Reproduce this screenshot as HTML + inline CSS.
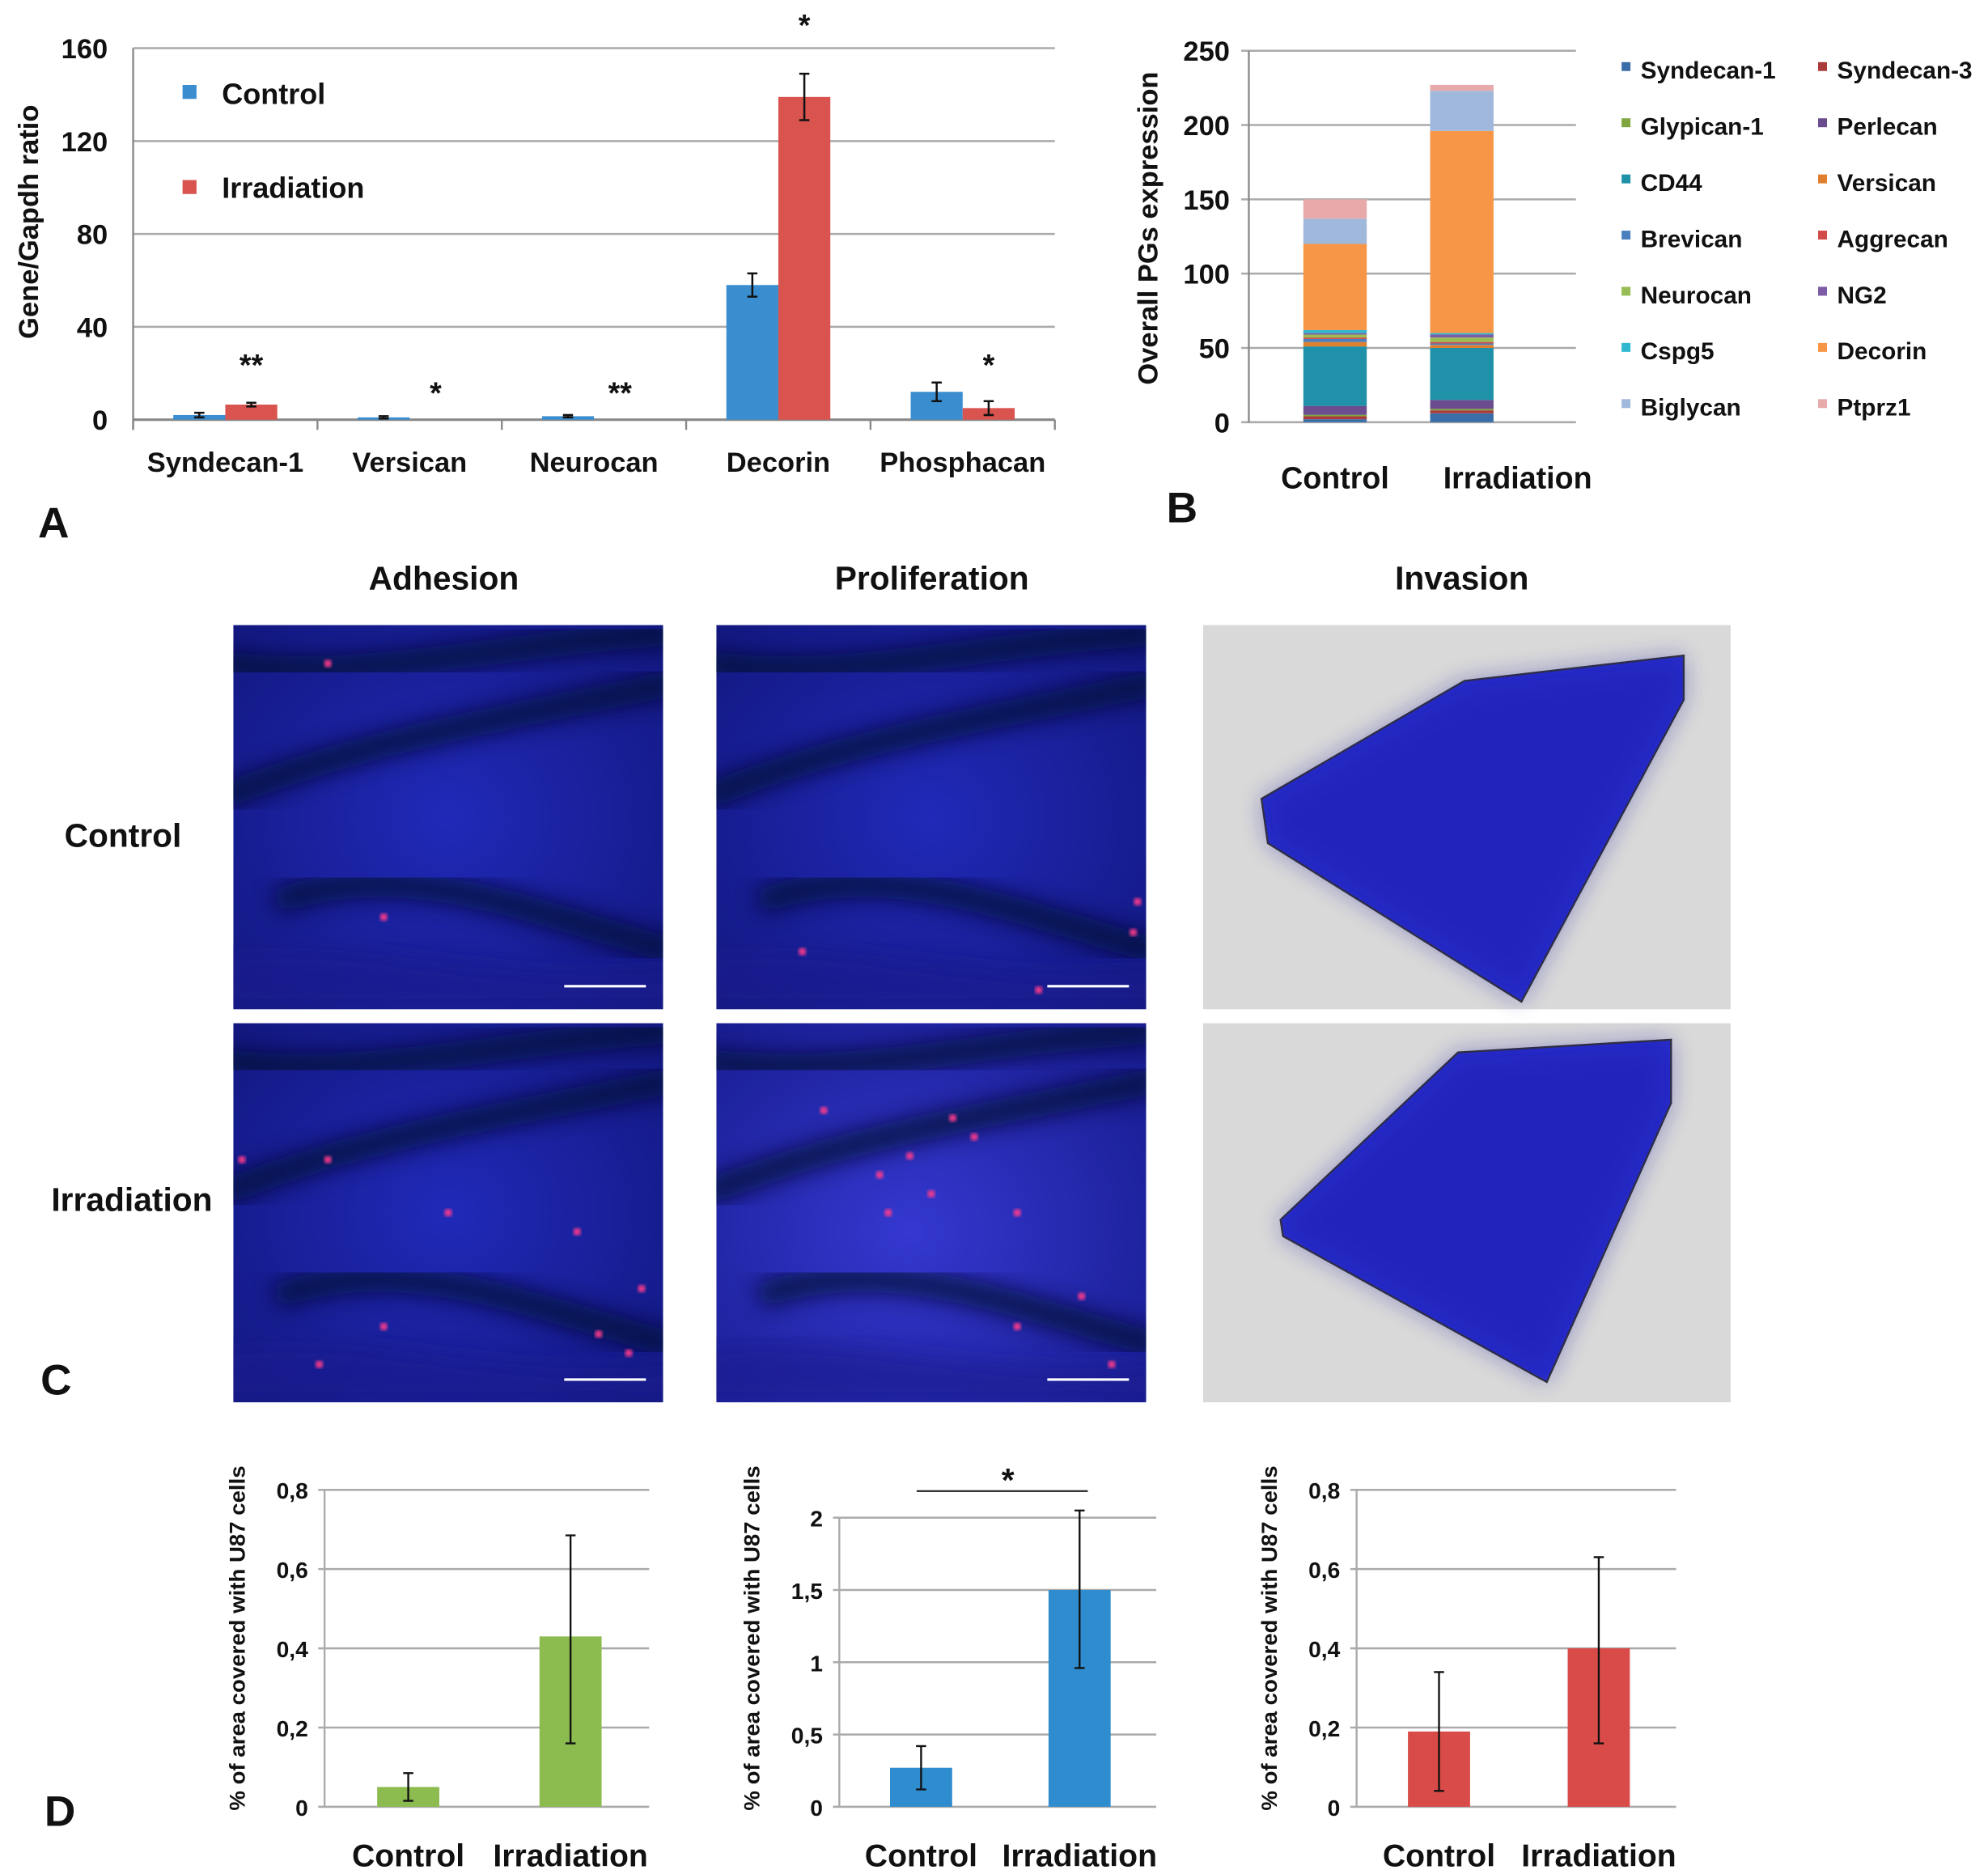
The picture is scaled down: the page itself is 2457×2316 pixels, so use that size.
<!DOCTYPE html>
<html><head><meta charset="utf-8"><style>
html,body{margin:0;padding:0;background:#fff}
svg{display:block}
text{font-family:"Liberation Sans",Arial,sans-serif;font-weight:bold;fill:#111}
</style></head><body>
<svg id="fig" width="2457" height="2316" viewBox="0 0 1568 1478" xmlns="http://www.w3.org/2000/svg">
<defs>
<radialGradient id="blueA" cx="50%" cy="50%" r="70%"><stop offset="0" stop-color="#2029b8"/><stop offset="1" stop-color="#121880"/></radialGradient>
<radialGradient id="blueB" cx="45%" cy="55%" r="70%"><stop offset="0" stop-color="#3438d0"/><stop offset="1" stop-color="#181d92"/></radialGradient>
<filter id="blur6"><feGaussianBlur stdDeviation="9"/></filter>
<filter id="blur2"><feGaussianBlur stdDeviation="1.5"/></filter>
</defs>
<g id="root"></g>
</svg>
<script>
// ---------- Panel A data ----------
const aCats = ["Syndecan-1","Versican","Neurocan","Decorin","Phosphacan"];
const aControl = [2, 1, 1.5, 58, 12];
const aIrr = [6.5, 0, 0, 139, 5];
const aCtrlErr = [1, 0.5, 0.5, 5, 4];
const aIrrErr = [0.8, 0, 0, 10, 3];
const aStars = ["**","*","**","*","*"];
const aTicks = [0,40,80,120,160];
// ---------- Panel B data ----------
const bCats = ["Control","Irradiation"];
const bSeries = ["Syndecan-1","Syndecan-3","Glypican-1","Perlecan","CD44","Versican","Brevican","Aggrecan","Neurocan","NG2","Cspg5","Decorin","Biglycan","Ptprz1"];
const bColors = ["#3a6ea8","#a93c3a","#7ea53e","#6a4c8f","#1f91a8","#e07f2e","#4a7fbf","#d24b48","#97bd54","#7d5ba6","#2fb7cf","#f79646","#9fb8db","#e8a9aa"];
const bControl = [2,2,1,6,40,3,2,1,2,1,2,58,17,13];
const bIrr = [6,2,1,6,35,2,1,1,3,2,1,136,27,4];
const bTicks = [0,50,100,150,200,250];
// ---------- Panel D data ----------
const dCats = ["Control","Irradiation"];
const dAdhesion = [0.05, 0.43];
const dAdhesionHi = [0.085, 0.685];
const dAdhesionLo = [0.015, 0.16];
const dProlif = [0.27, 1.5];
const dProlifHi = [0.42, 2.05];
const dProlifLo = [0.12, 0.96];
const dInvasion = [0.19, 0.40];
const dInvasionHi = [0.34, 0.63];
const dInvasionLo = [0.04, 0.16];
const dTicks08 = [0,0.2,0.4,0.6,0.8];
const dTicks08Labels = ["0","0,2","0,4","0,6","0,8"];
const dTicks2 = [0,0.5,1,1.5,2];
const dTicks2Labels = ["0","0,5","1","1,5","2"];

const NS="http://www.w3.org/2000/svg";
const root=document.getElementById('root');
function mk(tag,attrs,parent){const e=document.createElementNS(NS,tag);for(const k in attrs)e.setAttribute(k,attrs[k]);(parent||root).appendChild(e);return e;}
function txt(s,attrs,parent){const e=mk('text',attrs,parent);e.textContent=s;return e;}

// ================= Panel A =================
(function(){
  const x0=105,x1=832,yTop=38,yBot=331,max=160;
  const y=v=>yBot-(v/max)*(yBot-yTop);
  const gw=(x1-x0)/aCats.length;
  const g=mk('g',{});
  
  
  aTicks.forEach(t=>{
    const l=mk('line',{x1:x0,x2:x1,y1:y(t),y2:y(t),stroke:t===0?'#888':'#aaa','stroke-width':t===0?2:1.6},g);
    
    
    const tl=txt(String(t),{x:85,y:y(t)+8,'font-size':22,'text-anchor':'end'},g);
    
    
  });
  const ax=mk('line',{x1:x0,x2:x0,y1:yTop,y2:yBot+8,stroke:'#888','stroke-width':1.5},g);
  
  
  for(let i=0;i<=aCats.length;i++){
    const tk=mk('line',{x1:x0+i*gw,x2:x0+i*gw,y1:yBot,y2:yBot+8,stroke:'#888','stroke-width':1.5},g);
    
    
  }
  const yt=txt('Gene/Gapdh ratio',{x:0,y:0,'font-size':22,'text-anchor':'middle',transform:'translate(30,175) rotate(-90)'},g);
  
  
  const bw=41;
  aCats.forEach((c,i)=>{
    const cx=x0+gw*(i+0.5);
    const b1=mk('rect',{x:cx-bw,y:y(aControl[i]),width:bw,height:yBot-y(aControl[i]),fill:'#3a8ed0'},g);
    
    
    const b2=mk('rect',{x:cx,y:y(aIrr[i]),width:bw,height:yBot-y(aIrr[i]),fill:'#d9534f'},g);
    
    
    [[cx-bw/2,aControl[i],aCtrlErr[i]],[cx+bw/2,aIrr[i],aIrrErr[i]]].forEach(([ex,v,e])=>{
      if(v<=0)return;
      const eb=mk('path',{d:`M${ex-4},${y(v+e)}H${ex+4}M${ex},${y(v+e)}V${y(v-e)}M${ex-4},${y(v-e)}H${ex+4}`,stroke:'#111','stroke-width':1.6,fill:'none'},g);
      
      
    });
    const top=Math.max(aControl[i]+aCtrlErr[i],aIrr[i]+aIrrErr[i]);
    const st=txt(aStars[i],{x:cx+bw/2,y:y(top)-14,'font-size':24,'text-anchor':'middle'},g);
    st.setAttribute('y', i===3 ? 28 : (i===4?296:(i===0?296:318)));
    
    
    const lb=txt(c,{x:cx,y:372,'font-size':22,'text-anchor':'middle'},g);
    
    
  });
  const l1=mk('rect',{x:144,y:67,width:11,height:11,fill:'#3a8ed0'},g);
  
  
  const l1t=txt('Control',{x:175,y:82,'font-size':23},g);
  
  
  const l2=mk('rect',{x:144,y:142,width:11,height:11,fill:'#d9534f'},g);
  
  
  const l2t=txt('Irradiation',{x:175,y:156,'font-size':23},g);
  
  
  const pa=txt('A',{x:30,y:424,'font-size':34},g);
  
  
})();

// ================= Panel B =================
(function(){
  const x0=985,x1=1243,yTop=40,yBot=333,max=250;
  const y=v=>yBot-(v/max)*(yBot-yTop);
  const g=mk('g',{});
  
  
  bTicks.forEach(t=>{
    const l=mk('line',{x1:x0-6,x2:x1,y1:y(t),y2:y(t),stroke:'#aaa','stroke-width':1.6},g);
    
    
    const tl=txt(String(t),{x:970,y:y(t)+8,'font-size':22,'text-anchor':'end'},g);
    
    
  });
  const ax=mk('line',{x1:x0,x2:x0,y1:yTop,y2:yBot,stroke:'#888','stroke-width':1.5},g);
  
  
  const yt=txt('Overall PGs expression',{x:0,y:0,'font-size':22,'text-anchor':'middle',transform:'translate(913,180) rotate(-90)'},g);
  
  
  const bw=50;
  const barSpacing=100, firstCenter=1053;
  const labelX=[1053,1197];
  [bControl,bIrr].forEach((vals,ci)=>{
    const cx=firstCenter+barSpacing*ci;
    let acc=0;
    vals.forEach((v,si)=>{
      const r=mk('rect',{x:cx-bw/2,y:y(acc+v),width:bw,height:y(acc)-y(acc+v),fill:bColors[si]},g);
      
      
      acc+=v;
    });
    const lb=txt(bCats[ci],{x:labelX[ci],y:385,'font-size':24,'text-anchor':'middle'},g);
    
    
  });
  bSeries.forEach((s,i)=>{
    const col=i%2, row=Math.floor(i/2);
    const lx=col===0?1279:1434, ly=55+row*44.3;
    const sw=mk('rect',{x:lx,y:ly-6,width:7,height:7,fill:bColors[i]},g);
    
    
    const t=txt(s,{x:lx+15,y:ly+7,'font-size':19},g);
    
    
  });
  const pb=txt('B',{x:920,y:412,'font-size':34},g);
  
  
})();

// ================= Panel C (images) =================
(function(){
  const g=mk('g',{});
  
  
  [['Adhesion',350],['Proliferation',735],['Invasion',1153]].forEach(([s,x])=>{
    const t=txt(s,{x:x,y:465,'font-size':26,'text-anchor':'middle'},g);
    
    
  });
  const r1=txt('Control',{x:97,y:668,'font-size':26,'text-anchor':'middle'},g);
  
  
  const r2=txt('Irradiation',{x:104,y:955,'font-size':26,'text-anchor':'middle'},g);
  
  
  const pc=txt('C',{x:32,y:1100,'font-size':34},g);
  
  

  const imgs=[[184,493,339,303,'url(#blueA)'],[565,493,339,303,'url(#blueA)'],[184,807,339,299,'url(#blueA)'],[565,807,339,299,'url(#blueB)']];
  const names=['c-image-adhesion-control','c-image-proliferation-control','c-image-adhesion-irradiation','c-image-proliferation-irradiation'];
  imgs.forEach(([x,y,w,h,f],i)=>{
    const ig=mk('g',{},g);
    
    
    const cp=mk('clipPath',{id:'cp'+i},ig);
    mk('rect',{x:x,y:y,width:w,height:h},cp);
    const inner=mk('g',{'clip-path':'url(#cp'+i+')'},ig);
    mk('rect',{x:x,y:y,width:w,height:h,fill:f},inner);
    const bands=[
      `M${x-10},${y+h*0.45} C${x+w*0.3},${y+h*0.3} ${x+w*0.6},${y+h*0.25} ${x+w+10},${y+h*0.15}`,
      `M${x+w*0.1},${y+h*0.72} C${x+w*0.4},${y+h*0.6} ${x+w*0.7},${y+h*0.75} ${x+w+10},${y+h*0.85}`,
      `M${x-10},${y+h*0.1} C${x+w*0.3},${y+h*0.15} ${x+w*0.6},${y+h*0.05} ${x+w+10},${y+h*0.02}`
    ];
    bands.forEach(d=>mk('path',{d:d,stroke:'#05082e',"stroke-width":20,fill:'none',filter:'url(#blur6)',opacity:0.8},inner));
    mk('path',{d:`M${x-10},${y+h} L${x-10},${y+h*0.85} C${x+w*0.3},${y+h*0.8} ${x+w*0.6},${y+h*0.95} ${x+w+10},${y+h*0.9} L${x+w+10},${y+h}Z`,fill:'#1a1f90',opacity:0.6,filter:'url(#blur6)'},inner);
    mk('line',{x1:x+w*0.77,x2:x+w*0.96,y1:y+h*0.94,y2:y+h*0.94,stroke:'#fff','stroke-width':2},inner);
    const spots=i===2?[[0.22,0.36],[0.5,0.5],[0.8,0.55],[0.95,0.7],[0.85,0.82],[0.92,0.87],[0.35,0.8],[0.2,0.9],[0.02,0.36]]:
      i===3?[[0.25,0.23],[0.45,0.35],[0.5,0.45],[0.38,0.4],[0.6,0.3],[0.4,0.5],[0.85,0.72],[0.92,0.9],[0.7,0.8],[0.7,0.5],[0.55,0.25]]:
      i===1?[[0.98,0.72],[0.97,0.8],[0.75,0.95],[0.2,0.85]]:[[0.35,0.76],[0.22,0.1]];
    spots.forEach(([sx,sy])=>mk('circle',{cx:x+w*sx,cy:y+h*sy,r:3,fill:'#ff3a8c',filter:'url(#blur2)'},inner));
  });
  const inv=[[949,493,416,303,'M995,630 L1155,537 L1328,517 L1328,552 L1200,790 L1000,665 Z'],[949,807,416,299,'M1010,962 L1150,830 L1318,820 L1318,870 L1220,1090 L1012,975 Z']];
  inv.forEach(([x,y,w,h,d],i)=>{
    const ig=mk('g',{},g);
    
    
    mk('rect',{x:x,y:y,width:w,height:h,fill:'#d9d9d9'},ig);
    mk('path',{d:d,fill:'#2a2fd0',stroke:'#333','stroke-width':1.5},ig);
    mk('path',{d:d,fill:'#1418a0',opacity:0.4,filter:'url(#blur6)'},ig);
  });
})();

// ================= Panel D =================
function dChart(opts){
  const {x0,x1,yTop,yBot,max,ticks,tickLabels,vals,hi,lo,color,name}=opts;
  const y=v=>yBot-(v/max)*(yBot-yTop);
  const g=mk('g',{});
  
  
  ticks.forEach((t,i)=>{
    const l=mk('line',{x1:x0-5,x2:x1,y1:y(t),y2:y(t),stroke:'#aaa','stroke-width':1.6},g);
    
    
    const tl=txt(tickLabels[i],{x:x0-13,y:y(t)+7,'font-size':18,'text-anchor':'end'},g);
    
    
  });
  const ax=mk('line',{x1:x0,x2:x0,y1:yTop,y2:yBot,stroke:'#aaa','stroke-width':1.5},g);
  
  
  const yt=txt('% of area covered with U87 cells',{x:0,y:0,'font-size':17,'text-anchor':'middle',textLength:272,lengthAdjust:'spacingAndGlyphs',transform:`translate(${x0-63},1292) rotate(-90)`},g);
  
  
  const cw=(x1-x0)/2,bw=49;
  vals.forEach((v,i)=>{
    const cx=x0+cw*(i+0.5)+2;
    const b=mk('rect',{x:cx-bw/2,y:y(v),width:bw,height:yBot-y(v),fill:color},g);
    
    
    const eb=mk('path',{d:`M${cx-4},${y(hi[i])}H${cx+4}M${cx},${y(hi[i])}V${y(lo[i])}M${cx-4},${y(lo[i])}H${cx+4}`,stroke:'#111','stroke-width':1.5,fill:'none'},g);
    
    
    const lb=txt(dCats[i],{x:cx,y:1472,'font-size':25,'text-anchor':'middle'},g);
    
    
  });
  return {g,y};
}
dChart({x0:256,x1:512,yTop:1175,yBot:1425,max:0.8,ticks:dTicks08,tickLabels:dTicks08Labels,vals:dAdhesion,hi:dAdhesionHi,lo:dAdhesionLo,color:'#8cbb4f',name:'panel-d-adhesion-chart'});
const pr=dChart({x0:662,x1:912,yTop:1197,yBot:1425,max:2,ticks:dTicks2,tickLabels:dTicks2Labels,vals:dProlif,hi:dProlifHi,lo:dProlifLo,color:'#2e8ccf',name:'panel-d-proliferation-chart'});
const sl=mk('line',{x1:723,x2:858,y1:1176,y2:1176,stroke:'#333','stroke-width':1.5},pr.g);


const ss=txt('*',{x:795,y:1176,'font-size':26,'text-anchor':'middle'},pr.g);


dChart({x0:1070,x1:1322,yTop:1175,yBot:1425,max:0.8,ticks:dTicks08,tickLabels:dTicks08Labels,vals:dInvasion,hi:dInvasionHi,lo:dInvasionLo,color:'#d84b48',name:'panel-d-invasion-chart'});
const pd=txt('D',{x:35,y:1440,'font-size':34});


</script>
</body></html>
